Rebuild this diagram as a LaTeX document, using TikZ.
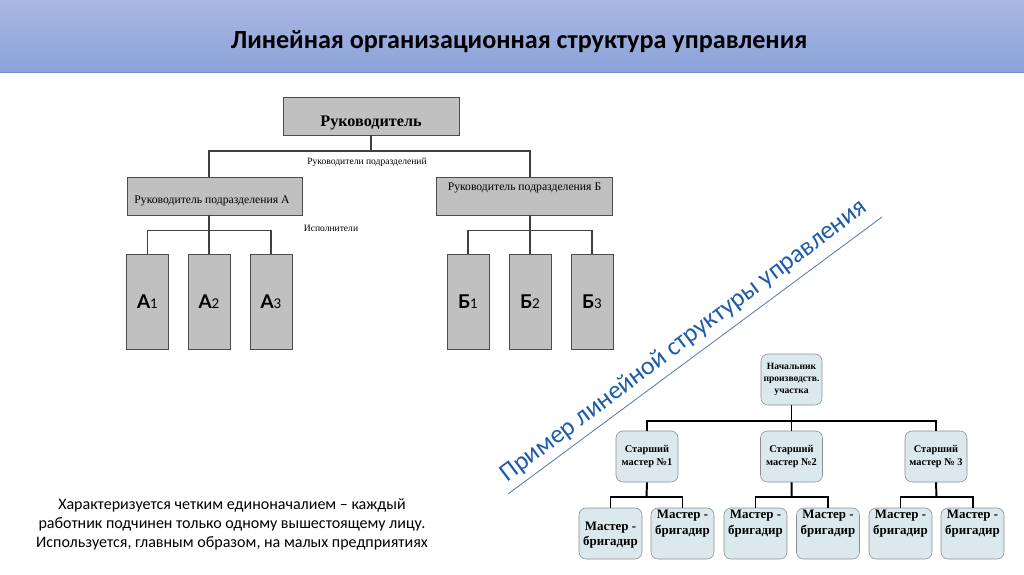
\documentclass[tikz,border=0pt]{standalone}
\usepackage{fontspec}
\setmainfont{Liberation Serif}
\newfontfamily\calfont{Carlito}
\newfontfamily\latofont{Lato}
\usetikzlibrary{calc}
\newlength\pxu
\setlength\pxu{0.025cm}
\definecolor{hdrtop}{RGB}{170,184,226}
\definecolor{hdrbot}{RGB}{139,162,216}
\definecolor{hdredge}{RGB}{112,140,205}
\definecolor{boxgray}{RGB}{192,192,192}
\definecolor{boxblue}{RGB}{219,233,238}
\definecolor{diagblue}{RGB}{28,92,168}
\definecolor{diagline}{RGB}{92,122,180}
\newcommand{\subnum}[1]{{\fontsize{9.5}{11}\selectfont\mdseries #1}}

\begin{document}
\begin{tikzpicture}[
  x=0.025cm, y=-0.025cm,
  gbox/.style={draw=black!70, fill=boxgray, inner sep=0pt, align=center},
  divbox/.style={gbox, minimum height=38*\pxu},
  sbox/.style={gbox, minimum width=42*\pxu, minimum height=95*\pxu, font=\latofont\fontsize{13.5}{15}\selectfont\bfseries},
  rbox/.style={draw=black!45, fill=boxblue, rounded corners=5pt, inner sep=0pt, align=center, minimum height=51*\pxu},
  link/.style={black!75, line width=0.8pt},
  tie/.style={black, line width=1.4pt},
  smalltxt/.style={font=\fontsize{6.8}{8}\selectfont},
  divtxt/.style={font=\fontsize{8.3}{10}\selectfont},
  mbtxt/.style={font=\fontsize{9.2}{11}\selectfont\bfseries, align=center},
]
\useasboundingbox (0,0) rectangle (1024,574);

% ---------- header ----------
\shade[top color=hdrtop, bottom color=hdrbot] (0,0) rectangle (1024,72);
\draw[hdredge, line width=0.8pt] (0,72.5) -- (1024,72.5);
\node[font=\calfont\bfseries\fontsize{18.6}{20}\selectfont] (title) at (519,42) {Линейная организационная структура управления};

% ---------- linear chart ----------
\node[divbox, minimum width=176*\pxu] (head) at (371,116) {};
\node[font=\fontsize{11.5}{13}\selectfont\bfseries] (headtxt) at (371,123) {Руководитель};
\node[divbox, minimum width=175*\pxu] (divA) at (214.5,196) {};
\node[divtxt] (divAtxt) at (212,201) {Руководитель подразделения А};
\node[divbox, minimum width=176*\pxu] (divB) at (524.5,196) {};
\node[divtxt] (divBtxt) at (524.5,188) {Руководитель подразделения Б};

\foreach \n/\x in {1/147.5,2/209,3/271}{
  \node[sbox] (a\n) at (\x,301.5) {А\subnum{\n}};
}
\foreach \n/\x in {1/468,2/530,3/592}{
  \node[sbox] (b\n) at (\x,301.5) {Б\subnum{\n}};
}

\coordinate (jt) at (head.south |- 0,151);
\draw[link] (head.south) -- (jt) -| (divA.north -| a2.north);
\draw[link] (jt) -| (divB.north -| b2.north);
\node[smalltxt] (sublbl) at (367,162) {Руководители подразделений};

\draw[link] (divA.south -| a2.north) -- (a2.north);
\draw[link] (a1.north) -- ++(0,-23) -| (a3.north);
\draw[link] (divB.south -| b2.north) -- (b2.north);
\draw[link] (b1.north) -- ++(0,-23) -| (b3.north);
\node[smalltxt] (execlbl) at (331,228) {Исполнители};

% ---------- example caption ----------
\coordinate (ulA) at (508,494);
\coordinate (ulB) at (882,217);
\draw[diagline, line width=0.6pt] (ulA) -- (ulB);
\node[font=\calfont\fontsize{18.3}{22}\selectfont, text=diagblue, rotate=37] (example) at (684,341) {Пример линейной структуры управления};

% ---------- production site chart ----------
\node[rbox, minimum width=61*\pxu, font=\fontsize{6.8}{8.5}\selectfont\bfseries] (chief) at (791.5,379.5) {Начальник\\производств.\\участка};
\foreach \n/\x/\t in {1/647/{№1},2/791.5/{№2},3/936/{№ 3}}{
  \node[rbox, minimum width=62*\pxu, font=\fontsize{7.4}{8.9}\selectfont\bfseries] (sm\n) at (\x,456.5) {Старший\\мастер \t};
}
\foreach \n/\x in {11/610.5,12/682.5,21/755.5,22/828,31/900.5,32/972.5}{
  \node[rbox, minimum width=63*\pxu] (mb\n) at (\x,533.5) {};
}
\node[mbtxt] (mb11txt) at (610.5,535) {Мастер -\\бригадир};
\foreach \n in {12,21,22,31,32}{
  \node[mbtxt] (mb\n txt) at ($(mb\n.center)+(0,-10)$) {Мастер -\\бригадир};
}

\draw[tie] (chief.south) -- (sm2.north);
\draw[tie] (sm1.north) -- ++(0,-10) -| (sm3.north);
\foreach \g in {1,2,3}{
  \draw[tie] (mb\g1.north) -- ++(0,-11) -| (mb\g2.north);
  \draw[tie] (sm\g.south) -- ($(mb\g1.north)!0.5!(mb\g2.north)+(0,-11)$);
}

% ---------- note ----------
\node[font=\calfont\fontsize{11.4}{13.5}\selectfont, align=center] (note) at (232,524)
  {Характеризуется четким единоначалием – каждый\\работник подчинен только одному вышестоящему лицу.\\Используется, главным образом, на малых предприятиях};
\end{tikzpicture}
\end{document}
